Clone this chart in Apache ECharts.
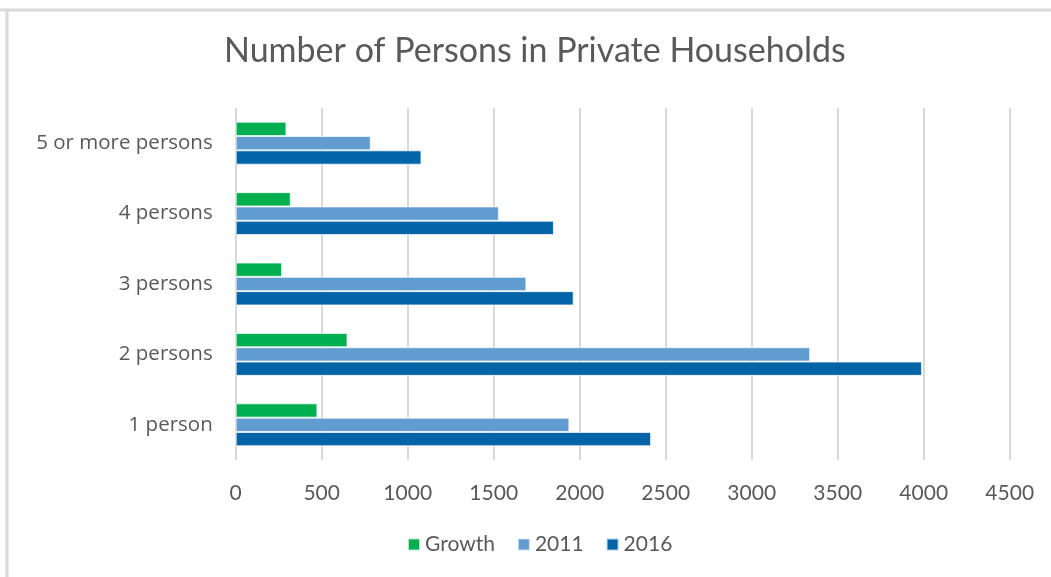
<!DOCTYPE html>
<html>
<head>
<meta charset="utf-8">
<script src="https://cdn.jsdelivr.net/npm/echarts@6/dist/echarts.min.js"></script>
<style>
  html, body { margin: 0; padding: 0; background: #ffffff; }
  #chart { width: 1051px; height: 577px; }
</style>
</head>
<body>
<div id="chart"></div>
<script>
// Household size categories, bottom to top
const categories = ['1 person', '2 persons', '3 persons', '4 persons', '5 or more persons'];
// Persons in private households per category
const growth = [475, 650, 270, 320, 295];
const y2011 = [1940, 3340, 1690, 1530, 785];
const y2016 = [2415, 3990, 1965, 1850, 1080];
// Value axis ticks
const xTicks = [0, 500, 1000, 1500, 2000, 2500, 3000, 3500, 4000, 4500];

const textColor = '#595959';
const gridColor = '#d9d9d9';

const chart = echarts.init(document.getElementById('chart'));

const barStyle = (color) => ({
  color: color,
  borderColor: 'rgba(255,255,255,0.7)',
  borderWidth: 1
});

chart.setOption({
  backgroundColor: '#ffffff',
  animation: false,
  title: {
    text: 'Number of Persons in Private Households',
    left: 224,
    top: 34,
    padding: 0,
    textStyle: {
      fontFamily: 'Lato',
      fontWeight: 'normal',
      fontSize: 34,
      color: textColor
    }
  },
  legend: {
    data: ['Growth', '2011', '2016'],
    left: 407,
    top: 534,
    padding: 0,
    icon: 'rect',
    itemWidth: 12,
    itemHeight: 12,
    itemGap: 22,
    textStyle: {
      fontFamily: 'Lato',
      fontSize: 21,
      color: textColor
    }
  },
  grid: {
    left: 235.7,
    right: 41.3,
    top: 108,
    bottom: 117,
    containLabel: false
  },
  xAxis: {
    type: 'value',
    min: xTicks[0],
    max: xTicks[xTicks.length - 1],
    interval: xTicks[1] - xTicks[0],
    axisLine: { show: false },
    axisTick: { show: false },
    splitLine: { show: true, lineStyle: { color: gridColor, width: 2 } },
    axisLabel: {
      margin: 23,
      fontFamily: 'Lato',
      fontSize: 21,
      color: textColor,
      formatter: (v) => String(v)
    }
  },
  yAxis: {
    type: 'category',
    data: categories,
    axisLine: { show: false },
    axisTick: { show: false },
    splitLine: { show: false },
    axisLabel: {
      margin: 23,
      fontFamily: 'Open Sans',
      fontSize: 20.5,
      color: textColor
    }
  },
  series: [
    { name: 'Growth', type: 'bar', data: growth, barWidth: 14.3, barGap: '0%', itemStyle: barStyle('#00b050') },
    { name: '2011', type: 'bar', data: y2011, barWidth: 14.3, barGap: '0%', itemStyle: barStyle('#619cd1') },
    { name: '2016', type: 'bar', data: y2016, barWidth: 14.3, barGap: '0%', itemStyle: barStyle('#0464a8') }
  ],
  graphic: [
    { type: 'line', shape: { x1: 0, y1: 10, x2: 1051, y2: 10 }, style: { stroke: '#d9d9d9', lineWidth: 3 }, silent: true },
    { type: 'line', shape: { x1: 7, y1: 10, x2: 7, y2: 577 }, style: { stroke: '#d9d9d9', lineWidth: 3 }, silent: true }
  ]
});
</script>
</body>
</html>
